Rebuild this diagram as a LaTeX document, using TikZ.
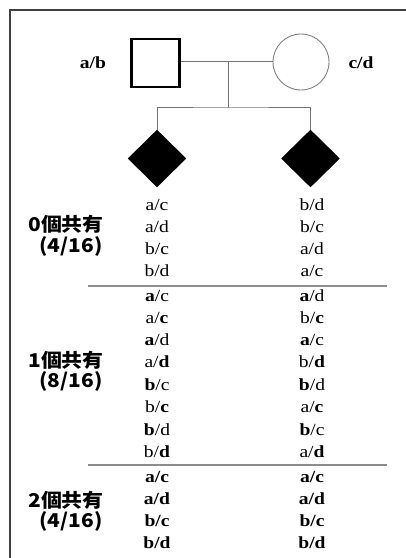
\documentclass[tikz,border=0pt]{standalone}
\usepackage{fontspec}
\setmainfont{Liberation Serif}
\newfontfamily\cjk{Noto Sans CJK TC}
\usetikzlibrary{shapes.geometric}
\newcommand\gN[2]{#1/#2}
\newcommand\gA[2]{\textbf{#1}/#2}
\newcommand\gB[2]{#1/\textbf{#2}}
\newcommand\gC[2]{\textbf{#1/#2}}
\begin{document}
\begin{tikzpicture}[x=1pt,y=-1pt,
  frame/.style={draw=black!75,line width=2pt},
  link/.style={draw=black!55,line width=0.9pt},
  divline/.style={draw=black!45,line width=1.2pt},
  malebox/.style={rectangle,draw=black,line width=2.6pt,minimum size=48pt,inner sep=0pt},
  femcirc/.style={circle,draw=black!50,line width=0.9pt,minimum size=56pt,inner sep=0pt},
  childdia/.style={diamond,fill=black,draw=black,minimum width=58pt,minimum height=57pt,inner sep=0pt},
  geno/.style={font=\fontsize{17}{17}\selectfont,anchor=base,inner sep=0pt,xscale=1.15},
  parlab/.style={font=\fontsize{17}{17}\selectfont\bfseries,inner sep=0pt,xscale=1.15},
  grp/.style={font=\cjk\bfseries\fontsize{19}{19}\selectfont,inner sep=0pt,xscale=1.1},
]
\useasboundingbox (0,0) rectangle (406,558);
\draw[frame] (406,10) -- (10,10) -- (10,558);

\node[malebox] (f) at (155.5,63) {};
\node[femcirc] (m) at (301,62) {};
\node[parlab] (fl) at (93,63) {a/b};
\node[parlab] (ml) at (361,63) {c/d};
\coordinate (mid) at (228,61);
\coordinate (sib) at (228,107);
\draw[link] (f.east |- mid) -- (m.west |- mid);
\draw[link] (mid) -- (sib);
\node[childdia] (c1) at (157,158.5) {};
\node[childdia] (c2) at (310.5,158.5) {};
\draw[link] (c1.north) |- (sib) -| (c2.north);

\foreach \i/\y/\L/\R in {1/205/\gN{a}{c}/\gN{b}{d},2/227/\gN{a}{d}/\gN{b}{c},3/249/\gN{b}{c}/\gN{a}{d},4/271/\gN{b}{d}/\gN{a}{c},
  5/296/\gA{a}{c}/\gA{a}{d},6/318/\gB{a}{c}/\gB{b}{c},7/340/\gA{a}{d}/\gA{a}{c},8/362/\gB{a}{d}/\gB{b}{d},
  9/385/\gA{b}{c}/\gA{b}{d},10/407/\gB{b}{c}/\gB{a}{c},11/430/\gA{b}{d}/\gA{b}{c},12/452/\gB{b}{d}/\gB{a}{d},
  13/477/\gC{a}{c}/\gC{a}{c},14/499/\gC{a}{d}/\gC{a}{d},15/521/\gC{b}{c}/\gC{b}{c},16/543/\gC{b}{d}/\gC{b}{d}}{
  \node[geno] (l\i) at (157,\y+5) {\L};
  \node[geno] (r\i) at (312,\y+5) {\R};
}
\draw[divline] (88,286) -- (387,286);
\draw[divline] (88,465) -- (387,465);

\node[grp] (g0) at (66,224) {0個共有};
\node[grp] (p0) at (71,246) {(4/16)};
\node[grp] (g1) at (66,360) {1個共有};
\node[grp] (p1) at (71,381) {(8/16)};
\node[grp] (g2) at (66,500) {2個共有};
\node[grp] (p2) at (71,521) {(4/16)};
\end{tikzpicture}
\end{document}
